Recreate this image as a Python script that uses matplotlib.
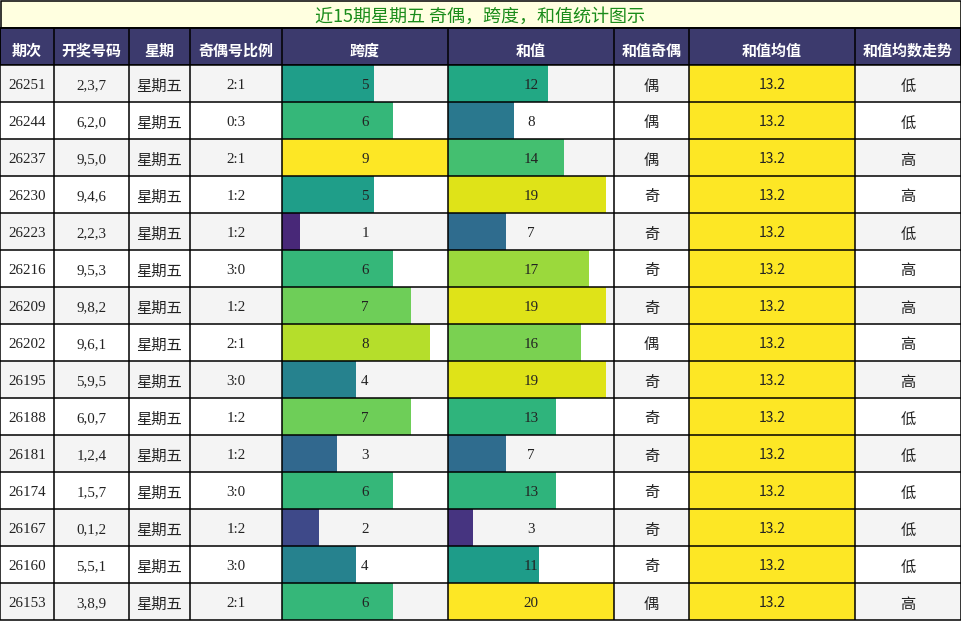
import matplotlib
matplotlib.use("Agg")
import matplotlib.pyplot as plt
from matplotlib.patches import Rectangle

# =====================
# data
# =====================
title = "近15期星期五 奇偶，跨度，和值统计图示"
headers = ["期次", "开奖号码", "星期", "奇偶号比例", "跨度", "和值", "和值奇偶", "和值均值", "和值均数走势"]

issues = ["26251", "26244", "26237", "26230", "26223", "26216", "26209", "26202",
          "26195", "26188", "26181", "26174", "26167", "26160", "26153"]
draws = ["2,3,7", "6,2,0", "9,5,0", "9,4,6", "2,2,3", "9,5,3", "9,8,2", "9,6,1",
         "5,9,5", "6,0,7", "1,2,4", "1,5,7", "0,1,2", "5,5,1", "3,8,9"]
weekday = ["星期五"] * 15
odd_even = ["2:1", "0:3", "2:1", "1:2", "1:2", "3:0", "1:2", "2:1",
            "3:0", "1:2", "1:2", "3:0", "1:2", "3:0", "2:1"]
spans = [5, 6, 9, 5, 1, 6, 7, 8, 4, 7, 3, 6, 2, 4, 6]
sums = [12, 8, 14, 19, 7, 17, 19, 16, 19, 13, 7, 13, 3, 11, 20]
sum_parity = ["偶", "偶", "偶", "奇", "奇", "奇", "奇", "偶",
              "奇", "奇", "奇", "奇", "奇", "奇", "偶"]
sum_mean = [13.2] * 15
trend = ["低", "低", "高", "高", "低", "高", "高", "高",
         "高", "低", "低", "低", "低", "低", "高"]

# =====================
# layout (pixels)
# =====================
W, H = 962, 621
col_x = [0, 54, 129, 190, 282, 448, 614, 689, 855, 961]
title_h = 27
head_top, head_bot = 28, 65
row_h = 37

CJK = "Noto Sans CJK SC"
SERIF = "Liberation Serif"
LW = 1.1

fig = plt.figure(figsize=(W / 100, H / 100), dpi=100)
ax = fig.add_axes([0, 0, 1, 1])
ax.set_xlim(0, W)
ax.set_ylim(H, 0)
ax.set_axis_off()

# title bar
ax.add_patch(Rectangle((0.5, 0.5), col_x[-1] - 0.5, title_h, facecolor="#ffffe0",
                       edgecolor="black", lw=LW))
ax.text((col_x[0] + col_x[-1]) / 2, 22, title, color="#1a8c1a",
        fontsize=13, family=CJK, ha="center", va="baseline")

# header
ax.add_patch(Rectangle((0, head_top), col_x[-1], head_bot - head_top,
                       facecolor="#3c3a6d", edgecolor="black", lw=LW))
for i, h in enumerate(headers):
    cx = (col_x[i] + col_x[i + 1]) / 2
    ax.text(cx, 55.5, h, color="white", fontsize=10.8,
            family=CJK, weight="bold", ha="center", va="baseline")

viridis = matplotlib.colormaps["viridis"]
span_max = max(spans)
sum_max = max(sums)

for r in range(len(issues)):
    y0 = head_bot + r * row_h
    bg = "#f4f4f4" if r % 2 == 0 else "white"
    ax.add_patch(Rectangle((0, y0), col_x[-1], row_h, facecolor=bg, edgecolor="none"))

    # span bar
    w = col_x[5] - col_x[4]
    ax.add_patch(Rectangle((col_x[4], y0), w * spans[r] / span_max, row_h,
                           facecolor=viridis(spans[r] / span_max), edgecolor="none"))
    # sum bar
    w = col_x[6] - col_x[5]
    ax.add_patch(Rectangle((col_x[5], y0), w * sums[r] / sum_max, row_h,
                           facecolor=viridis(sums[r] / sum_max), edgecolor="none"))
    # mean cell
    ax.add_patch(Rectangle((col_x[7], y0), col_x[8] - col_x[7], row_h,
                           facecolor="#fde725", edgecolor="none"))

    # (text, font, size, baseline offset inside row)
    cells = [
        (issues[r], SERIF, 10.8, 24),
        (draws[r], SERIF, 10.8, 24),
        (weekday[r], CJK, 11, 25.5),
        (odd_even[r], SERIF, 10.8, 24),
        (str(spans[r]), SERIF, 10.8, 24),
        (str(sums[r]), SERIF, 10.8, 24),
        (sum_parity[r], CJK, 11, 25.5),
        (f"{sum_mean[r]:.1f}", CJK, 10, 24.3),
        (trend[r], CJK, 11, 25.5),
    ]
    for i, (txt, fam, fs, dy) in enumerate(cells):
        cx = (col_x[i] + col_x[i + 1]) / 2
        ax.text(cx, y0 + dy, txt, color="#222222", fontsize=fs, family=fam,
                ha="center", va="baseline")

# grid lines
bottom = head_bot + len(issues) * row_h
for x in col_x:
    ax.plot([x, x], [head_top, bottom], color="black", lw=LW, solid_capstyle="butt")
for r in range(len(issues) + 1):
    y = head_bot + r * row_h
    ax.plot([0, col_x[-1]], [y, y], color="black", lw=LW, solid_capstyle="butt")
ax.plot([0, col_x[-1]], [head_top, head_top], color="black", lw=LW)

fig.savefig("out.png", dpi=100)
